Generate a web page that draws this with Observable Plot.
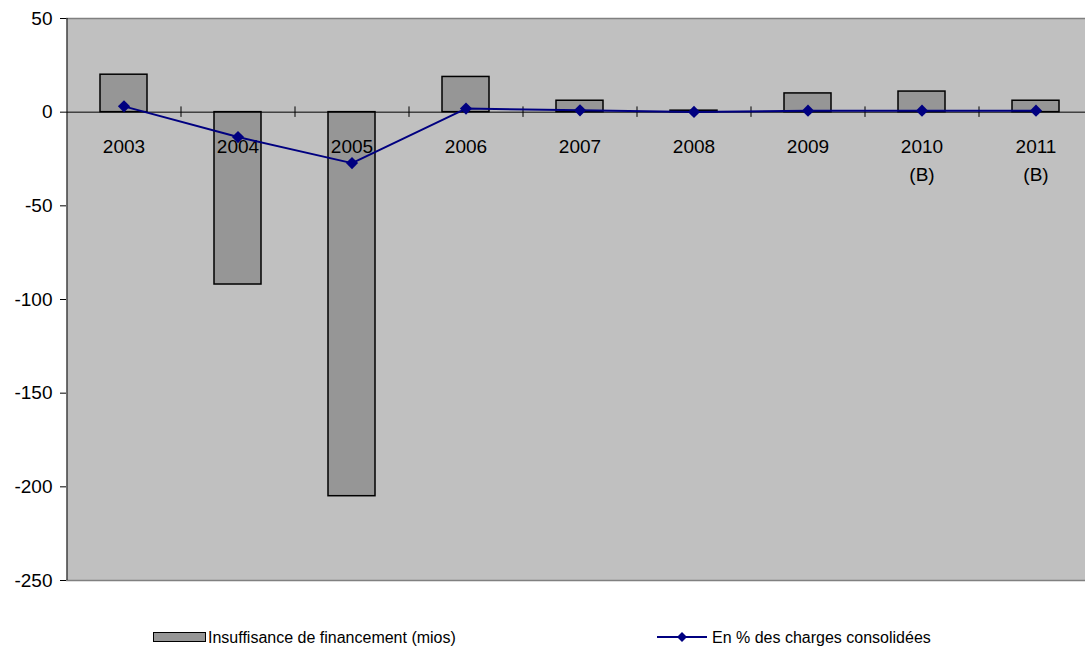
<!DOCTYPE html>
<html><head><meta charset="utf-8">
<script src="https://cdn.jsdelivr.net/npm/d3@7"></script>
<script src="https://cdn.jsdelivr.net/npm/@observablehq/plot@0.6"></script>
<style>
html,body{margin:0;padding:0;background:#fff;overflow:hidden;width:1085px;height:652px;position:relative}
#chart svg{display:block;overflow:hidden}
.leg{position:absolute;font:16px "Liberation Sans",Arial,sans-serif;color:#000;white-space:nowrap;line-height:20px}
</style></head><body>
<div id="chart"></div>
<div id="legend"></div>
<script>
const years = ["2003","2004","2005","2006","2007","2008","2009","2010","2011"];
const yearLabels = ["2003","2004","2005","2006","2007","2008","2009","2010\n(B)","2011\n(B)"];
const insuffisance = [20, -92, -205, 18.8, 6.1, 0.8, 10, 11, 6.1];
const pourcent = [3.1, -13.3, -27.2, 1.9, 1.0, 0.1, 0.8, 0.8, 0.8];
const yTicks = [50, 0, -50, -100, -150, -200, -250];
const seriesNames = ["Insuffisance de financement (mios)", "En % des charges consolidées"];

const data = years.map((y, i) => ({year: y, label: yearLabels[i], ins: insuffisance[i], pct: pourcent[i]}));

const W = 1085, ML = 66, plotRight = 1092;
const step = (plotRight - ML) / years.length;

const chart = Plot.plot({
  width: W,
  height: 600,
  marginLeft: ML,
  marginRight: 0,
  marginTop: 18,
  marginBottom: 20,
  style: {fontFamily: '"Liberation Sans", Arial, sans-serif', fontSize: "19px", background: "transparent", color: "#000"},
  x: {domain: years, range: [ML, plotRight], paddingInner: 0.59, paddingOuter: 0.295, axis: null},
  y: {domain: [-250, 50], ticks: yTicks, tickSize: 6, tickPadding: 8, label: null, tickFormat: d => String(d)},
  marks: [
    Plot.frame({fill: "#C0C0C0", stroke: "none"}),
    Plot.ruleY([50, -250], {stroke: "#808080", strokeWidth: 1.5}),
    Plot.barY(data, {x: "year", y: "ins", fill: "#969696", stroke: "#000", strokeWidth: 1.5}),
    Plot.ruleY([0], {stroke: "#000", strokeWidth: 1}),
    Plot.ruleX(years.slice(1), {x: d => d, y1: -2.8, y2: 2.8, dx: -step / 2, stroke: "#000", strokeWidth: 1}),
    Plot.ruleX([0], {x: () => years[0], dx: -step / 2, stroke: "#000", strokeWidth: 1}),
    Plot.text(data, {x: "year", y: () => 0, text: "label", lineAnchor: "top", dy: 21, fontSize: 19, lineHeight: 1.47, fill: "#000"}),
    Plot.line(data, {x: "year", y: "pct", stroke: "#000080", strokeWidth: 2}),
    Plot.dot(data, {x: "year", y: "pct", symbol: "diamond2", r: 5.5, fill: "#000080", stroke: "none"})
  ]
});
document.getElementById("chart").append(chart);

const leg = document.getElementById("legend");
leg.innerHTML = `
<div style="position:absolute;left:153px;top:632px;width:51px;height:8px;background:#969696;border:1px solid #000"></div>
<div class="leg" style="left:208px;top:628px">${seriesNames[0]}</div>
<svg style="position:absolute;left:655px;top:629px" width="54" height="16">
  <line x1="2" y1="8" x2="52" y2="8" stroke="#000080" stroke-width="2"/>
  <path d="M27,3 L32,8 L27,13 L22,8 Z" fill="#000080"/>
</svg>
<div class="leg" style="left:712px;top:628px">${seriesNames[1]}</div>`;
</script>
</body></html>
